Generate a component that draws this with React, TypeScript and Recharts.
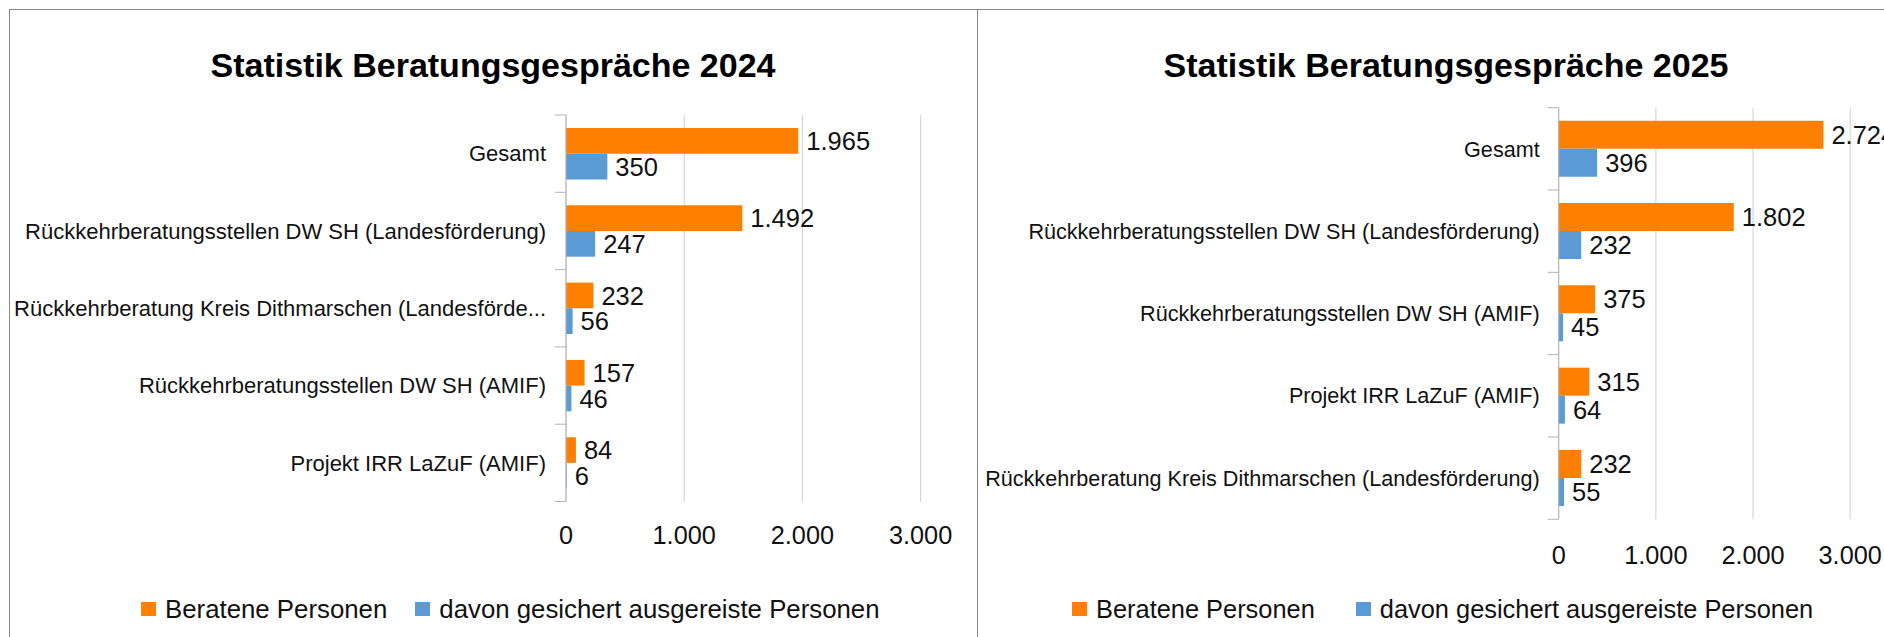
import React from "react";
import { BarChart, Bar, XAxis, YAxis, CartesianGrid, Legend, LabelList } from "recharts";

// values
const categories2024 = [
  "Gesamt",
  "Rückkehrberatungsstellen DW SH (Landesförderung)",
  "Rückkehrberatung Kreis Dithmarschen (Landesförde...",
  "Rückkehrberatungsstellen DW SH (AMIF)",
  "Projekt IRR LaZuF (AMIF)",
];
const beraten2024 = [1965, 1492, 232, 157, 84];
const ausgereist2024 = [350, 247, 56, 46, 6];

const categories2025 = [
  "Gesamt",
  "Rückkehrberatungsstellen DW SH (Landesförderung)",
  "Rückkehrberatungsstellen DW SH (AMIF)",
  "Projekt IRR LaZuF (AMIF)",
  "Rückkehrberatung Kreis Dithmarschen (Landesförderung)",
];
const beraten2025 = [2724, 1802, 375, 315, 232];
const ausgereist2025 = [396, 232, 45, 64, 55];

const xTicks = [0, 1000, 2000, 3000];
const seriesNames = ["Beratene Personen", "davon gesichert ausgereiste Personen"];
const seriesColors = ["#FF8000", "#5B9BD5"];

const FONT = '"Liberation Sans", Arial, sans-serif';
const AXIS = "#b3b3b3";
const GRID = "#d0d0d0";
const BORDER = "#8a8a8a";

const fmt = (v: any) => String(v).replace(/\B(?=(\d{3})+(?!\d))/g, ".");

const buildRows = (cats: string[], a: number[], b: number[]) =>
  cats.map((name, i) => ({ name, a: a[i], b: b[i] }));

interface PanelProps {
  title: string;
  rows: any[];
  left: number;
  width: number;
  titleCenter: number;
  plotLeft: number;
  plotRight: number;
  plotTop: number;
  plotBottom: number;
  xTickMargin: number;
  catGap: number;
  catFont: number;
  barSize: number;
  legendLeft: number;
  legendGap: number;
  legendFont: number;
}

const Panel = (p: PanelProps) => {
  const height = 637;
  const legendH = 30;
  const band = (p.plotBottom - p.plotTop) / p.rows.length;

  const renderTick = (props: any) => {
    const { x, y, payload, index } = props;
    const ax = x + p.catGap;
    return (
      <g>
        <line x1={ax - 11} x2={ax} y1={y - band / 2} y2={y - band / 2} stroke={AXIS} />
        {index === p.rows.length - 1 && (
          <line x1={ax - 11} x2={ax} y1={y + band / 2} y2={y + band / 2} stroke={AXIS} />
        )}
        <text x={x} y={y} dy="0.355em" textAnchor="end" fontSize={p.catFont} fill="#111">
          {payload.value}
        </text>
      </g>
    );
  };

  const renderLegend = () => (
    <div style={{ display: "flex", alignItems: "center", height: legendH, gap: p.legendGap }}>
      {seriesNames.map((n, i) => (
        <div key={n} style={{ display: "flex", alignItems: "center" }}>
          <span style={{ display: "inline-block", width: 15, height: 14, background: seriesColors[i], marginRight: 9 }} />
          <span style={{ fontSize: p.legendFont, lineHeight: legendH + "px", color: "#111", whiteSpace: "nowrap" }}>{n}</span>
        </div>
      ))}
    </div>
  );

  return (
    <div style={{ position: "absolute", left: p.left, top: 0, width: p.width, height }}>
      <div
        style={{
          position: "absolute",
          left: p.titleCenter - p.left - 400,
          width: 800,
          top: 48,
          textAlign: "center",
          fontSize: 34,
          lineHeight: "34px",
          fontWeight: "bold",
          color: "#000",
        }}
      >
        {p.title}
      </div>
      <BarChart
        width={p.width}
        height={height}
        data={p.rows}
        layout="vertical"
        barGap={0}
        margin={{ top: p.plotTop, right: p.width - p.plotRight, bottom: 0, left: 0 }}
      >
        <CartesianGrid horizontal={false} stroke={GRID} />
        <XAxis
          type="number"
          domain={[0, 3000]}
          ticks={xTicks}
          interval={0}
          tickFormatter={fmt}
          axisLine={false}
          tickLine={false}
          tickSize={0}
          tickMargin={p.xTickMargin}
          height={height - p.plotBottom - legendH}
          tick={{ fontSize: 25.3, fill: "#111" }}
        />
        <YAxis
          type="category"
          dataKey="name"
          width={p.plotLeft}
          interval={0}
          axisLine={{ stroke: AXIS }}
          tickLine={false}
          tickSize={0}
          tickMargin={p.catGap}
          tick={renderTick}
        />
        <Legend
          verticalAlign="bottom"
          content={renderLegend}
          wrapperStyle={{ position: "absolute", left: p.legendLeft, top: 609 - legendH / 2, width: 880, height: legendH }}
        />
        <Bar dataKey="a" name={seriesNames[0]} fill={seriesColors[0]} barSize={p.barSize} isAnimationActive={false}>
          <LabelList dataKey="a" position="right" offset={8} formatter={fmt} fontSize={25.5} fill="#111" />
        </Bar>
        <Bar dataKey="b" name={seriesNames[1]} fill={seriesColors[1]} barSize={p.barSize} isAnimationActive={false}>
          <LabelList dataKey="b" position="right" offset={8} formatter={fmt} fontSize={25.5} fill="#111" />
        </Bar>
      </BarChart>
    </div>
  );
};

export default function App() {
  return (
    <div
      style={{
        position: "absolute",
        left: 0,
        top: 0,
        width: 1884,
        height: 637,
        overflow: "hidden",
        background: "#fff",
        fontFamily: FONT,
      }}
    >
      {/* frame of the two panels */}
      <div style={{ position: "absolute", left: 9, top: 9, width: 968, height: 640, borderLeft: `1px solid ${BORDER}`, borderTop: `1px solid ${BORDER}` }} />
      <div style={{ position: "absolute", left: 977, top: 9, width: 940, height: 640, borderLeft: `1px solid ${BORDER}`, borderTop: `1px solid ${BORDER}` }} />

      <Panel
        title="Statistik Beratungsgespräche 2024"
        rows={buildRows(categories2024, beraten2024, ausgereist2024)}
        left={0}
        width={977}
        titleCenter={493}
        plotLeft={566}
        plotRight={920.6}
        plotTop={115}
        plotBottom={501.5}
        xTickMargin={25}
        catGap={20}
        catFont={22}
        barSize={25.7}
        legendLeft={141}
        legendGap={28}
        legendFont={25.8}
      />
      <Panel
        title="Statistik Beratungsgespräche 2025"
        rows={buildRows(categories2025, beraten2025, ausgereist2025)}
        left={977}
        width={950}
        titleCenter={1446}
        plotLeft={581.7}
        plotRight={873.2}
        plotTop={107.7}
        plotBottom={519.3}
        xTickMargin={27}
        catGap={19}
        catFont={21.6}
        barSize={28}
        legendLeft={95}
        legendGap={41}
        legendFont={25.4}
      />
    </div>
  );
}
